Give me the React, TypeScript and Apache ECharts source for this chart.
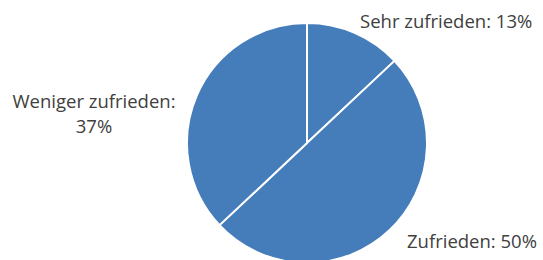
import React, { useEffect, useRef } from "react";
import * as echarts from "echarts";

const categories = ["Sehr zufrieden", "Zufrieden", "Weniger zufrieden"];
const values = [13, 50, 37];

const labelPlacements = [
  { x: 360, y: 20, align: "left" },
  { x: 407, y: 240, align: "left" },
  { x: 94, y: 113, align: "center" },
];

export default function App() {
  const ref = useRef<HTMLDivElement>(null);
  useEffect(() => {
    const chart = echarts.init(ref.current!, null, { renderer: "svg" });
    chart.setOption({
      animation: false,
      series: [
        {
          type: "pie",
          center: [307, 143],
          radius: 120,
          startAngle: 90,
          clockwise: true,
          data: categories.map((c, i) => ({ name: c, value: values[i] })),
          itemStyle: { color: "#457cba", borderColor: "#ffffff", borderWidth: 2 },
          label: {
            show: true,
            position: "outside",
            color: "#404040",
            fontFamily: "Open Sans",
            fontSize: 18.5,
            lineHeight: 25,
            overflow: "none",
            width: 300,
            formatter: (p: any) =>
              p.name + ":" + (p.dataIndex === 2 ? "\n" : " ") + Math.round(p.percent) + "%",
          },
          labelLine: { show: false },
          labelLayout: (params: any) => {
            const pl = labelPlacements[params.dataIndex];
            return { x: pl.x, y: pl.y, align: pl.align, verticalAlign: "middle", hideOverlap: false };
          },
          emphasis: { disabled: true },
        },
      ],
    });
    return () => chart.dispose();
  }, []);
  return (
    <div
      ref={ref}
      style={{ position: "fixed", left: 0, top: 0, width: 543, height: 260, background: "#fff" }}
    />
  );
}
